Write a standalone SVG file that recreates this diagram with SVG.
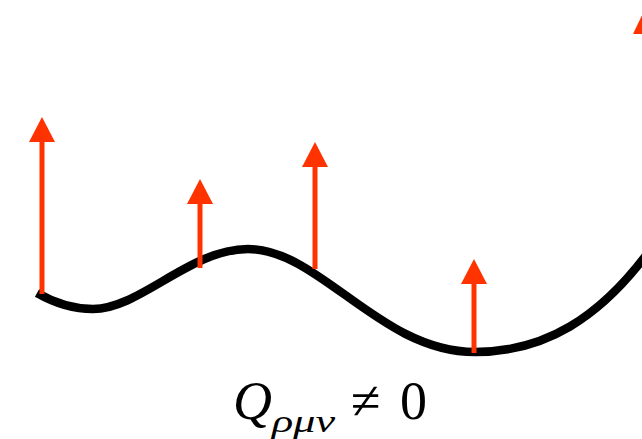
<svg xmlns="http://www.w3.org/2000/svg" width="642" height="439" viewBox="0 0 642 439">
<style>
.curve{fill:none;stroke:#000;stroke-width:8.5;stroke-linecap:butt}
.shaft{stroke:#ff3300;stroke-width:5;fill:none}
.head{fill:#ff3300}
.math{font-family:"Liberation Serif","DejaVu Serif",serif;fill:#000}
</style>
<rect width="642" height="439" fill="#fff"/>
<g id="curve">
<path class="curve" d="M37,293 C58,305 75,309 93,309 C140,309 190,249 248,249 C320,249 380,352 475,352 C545,352 600,318 650,250"/>
</g>
<g id="connectors">
<g id="arrow1"><line class="shaft" x1="42" y1="294" x2="42" y2="140"/><polygon class="head" points="42,117 55,142 29,142"/></g>
<g id="arrow2"><line class="shaft" x1="200" y1="268" x2="200" y2="202"/><polygon class="head" points="200,179 213,204 187,204"/></g>
<g id="arrow3"><line class="shaft" x1="315" y1="269" x2="315" y2="165"/><polygon class="head" points="315,142 328,167 302,167"/></g>
<g id="arrow4"><line class="shaft" x1="474" y1="353" x2="474" y2="282"/><polygon class="head" points="474,259 487,284 461,284"/></g>
<g id="arrow5"><polygon class="head" points="645,9 657,34 633,34"/></g>
</g>
<g id="label">
<text class="math" x="233" y="419" font-size="54" font-style="italic">Q</text>
<text class="math" x="272" y="432" font-size="32" font-style="italic" textLength="63" lengthAdjust="spacingAndGlyphs">ρμν</text>
<text class="math" x="351" y="419" font-size="54">≠</text>
<text class="math" x="400" y="419" font-size="54">0</text>
</g>
</svg>
